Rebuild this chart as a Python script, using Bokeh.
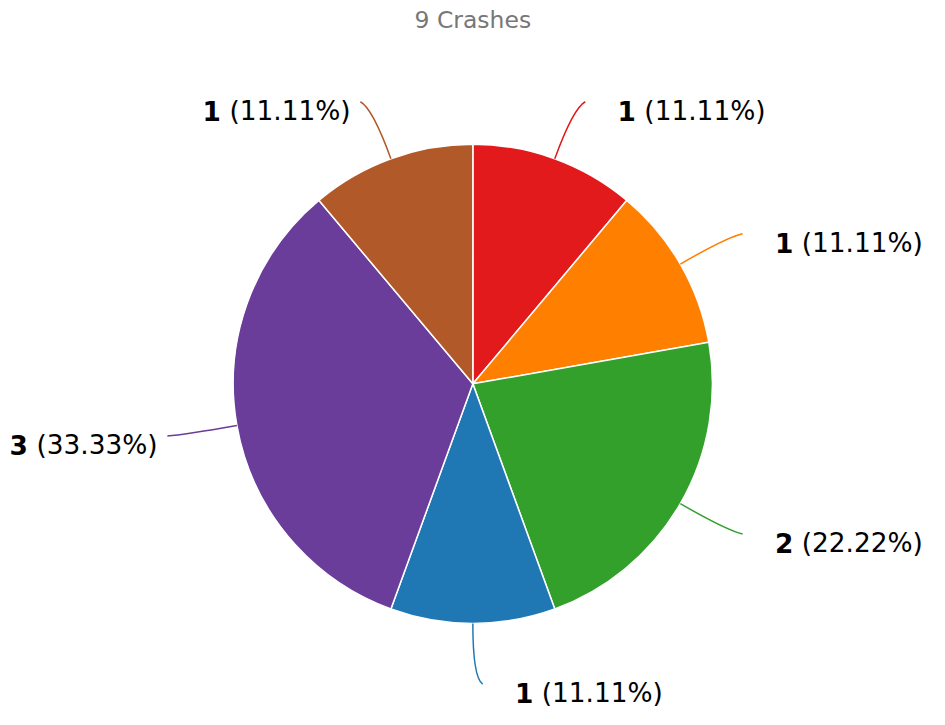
import math
from bokeh.plotting import figure
from bokeh.models import Range1d
from bokeh.core.properties import value
from bokeh.embed import file_html
from bokeh.resources import INLINE

# ---- data ----
counts = [1, 1, 2, 1, 3, 1]
colors = ["#e31a1c", "#ff7f00", "#33a02c", "#1f78b4", "#6a3d9a", "#b15928"]
title_text = f"{sum(counts)} Crashes"

# ---- layout (in reference units, scaled to fit the window) ----
W, H = 929, 709
REF_H = 725
S = H / REF_H                     # px per reference unit
CX, CY, R = 483, 392, 245
FS = 27                           # label font size, reference units
TFS = 24                          # title font size, reference units

REG = {"0": .636, "1": .636, "2": .636, "3": .636, "4": .636, "5": .636, "6": .636,
       "7": .636, "8": .636, "9": .636, " ": .318, "(": .390, ")": .390, ".": .318, "%": .950}
BOLD_DIGIT = .696
FONT = value("DejaVu Sans")


def text_w(s, fs):
    return sum(REG.get(c, .6) for c in s) * fs


def px(fs):
    return f"{fs * S:.2f}px"


p = figure(width=W, height=H, output_backend="svg", toolbar_location=None,
           x_range=Range1d(0, W / S), y_range=Range1d(-REF_H, 0),
           min_border=0, outline_line_color=None, background_fill_color="white")
p.axis.visible = False
p.grid.visible = False

total = sum(counts)
cum = 0.0
for v, col in zip(counts, colors):
    f0 = cum / total
    f1 = (cum + v) / total
    cum += v
    # wedge (clockwise from 12 o'clock)
    p.wedge(x=[CX], y=[-CY], radius=R,
            start_angle=math.pi / 2 - f1 * 2 * math.pi,
            end_angle=math.pi / 2 - f0 * 2 * math.pi,
            direction="anticlock", fill_color=col,
            line_color="white", line_width=1.5)

    mid = (f0 + f1) / 2 * 2 * math.pi
    dx, dy = math.sin(mid), -math.cos(mid)      # page direction
    side = 1 if dx >= 0 else -1
    sx, sy = CX + R * dx, CY + R * dy
    cx_, cy_ = CX + (R + 55) * dx, CY + (R + 55) * dy
    ex, ey = CX + (R + 62) * dx + side * 10, CY + (R + 62) * dy
    p.quadratic(x0=[sx], y0=[-sy], x1=[ex], y1=[-ey], cx=[cx_], cy=[-cy_],
                line_color=col, line_width=1.5)

    num = str(v)
    pct = f"({v / total * 100:.2f}%)"
    ly = -(ey + 9)
    if side > 0:
        x0 = ex + 33
        p.text(x=[x0], y=[ly], text=[num], text_font=FONT,
               text_font_size=px(FS), text_font_style="bold",
               text_align="left", text_baseline="middle", text_color="#000000")
        p.text(x=[x0 + BOLD_DIGIT * FS * len(num) + .318 * FS], y=[ly], text=[pct],
               text_font=FONT, text_font_size=px(FS),
               text_align="left", text_baseline="middle", text_color="#000000")
    else:
        xr = ex - 10
        p.text(x=[xr], y=[ly], text=[pct], text_font=FONT,
               text_font_size=px(FS), text_align="right",
               text_baseline="middle", text_color="#000000")
        p.text(x=[xr - text_w(pct, FS) - .318 * FS], y=[ly], text=[num],
               text_font=FONT, text_font_size=px(FS),
               text_font_style="bold", text_align="right",
               text_baseline="middle", text_color="#000000")

p.text(x=[CX], y=[-20], text=[title_text], text_font=FONT,
       text_font_size=px(TFS), text_align="center", text_baseline="middle",
       text_color="#777777")

open("out.html", "w").write(file_html(p, INLINE))
